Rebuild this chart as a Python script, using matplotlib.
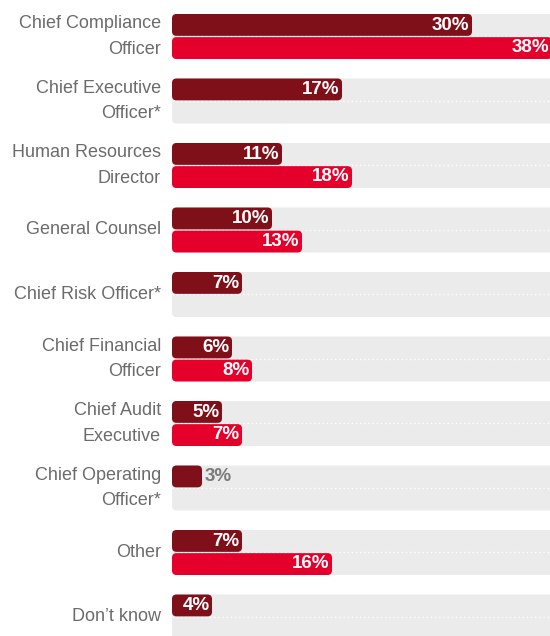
import matplotlib.pyplot as plt
from matplotlib.patches import FancyBboxPatch

categories = [
    "Chief Compliance\nOfficer",
    "Chief Executive\nOfficer*",
    "Human Resources\nDirector",
    "General Counsel",
    "Chief Risk Officer*",
    "Chief Financial\nOfficer",
    "Chief Audit\nExecutive",
    "Chief Operating\nOfficer*",
    "Other",
    "Don\u2019t know",
]
# upper (dark red) and lower (bright red) bar in each group; None = no bar
upper_values = [30, 17, 11, 10, 7, 6, 5, 3, 7, 4]
lower_values = [38, None, 18, 13, None, 8, 7, None, 16, None]

DARK = "#7f0f18"
RED = "#e4002b"
BG = "#ebebeb"
LABEL = "#6b6b6b"

plt.rcParams['font.family'] = ['Liberation Sans', 'DejaVu Sans']

fig = plt.figure(figsize=(5.5, 6.36), dpi=100)
# bars start at x=172px, figure is 550px wide
ax = fig.add_axes([172 / 550, 0, 1 - 172 / 550, 1])

xmax = 37.8
row = 64.5           # px between group centres
bar_h = 22.5 / row   # one bar height in data units
ax.set_xlim(0, xmax)
ax.set_ylim((636 - 36.5) / row, -36.5 / row)
ax.axis('off')

# aspect so that rounding looks circular: x 10px/unit, y 64.5px/unit
aspect = 10 / row
rnd = 0.45


def rounded(x, y, w, h, color, z):
    p = FancyBboxPatch((x, y), w, h, boxstyle=f"round,pad=0,rounding_size={rnd}",
                       mutation_aspect=aspect, facecolor=color, edgecolor='none',
                       zorder=z, clip_on=True)
    ax.add_patch(p)


for i, (cat, up, lo) in enumerate(zip(categories, upper_values, lower_values)):
    # grey background track
    rounded(0, i - bar_h, xmax + 2, 2 * bar_h, BG, 1)
    ax.plot([0, xmax], [i, i], color='white', lw=1, linestyle=(0, (1, 2)), zorder=2)

    # upper bar
    rounded(0, i - bar_h, up, bar_h - 0.01, DARK, 3)
    if up >= 4:
        ax.text(up - 0.25, i - bar_h / 2, f"{up}%", ha='right', va='center',
                color='white', fontsize=13.5, fontweight='bold', zorder=4)
    else:
        ax.text(up + 0.3, i - bar_h / 2, f"{up}%", ha='left', va='center',
                color='#7a7a7a', fontsize=13.5, fontweight='bold', zorder=4)

    # lower bar
    if lo is not None:
        rounded(0, i + 0.01, lo, bar_h - 0.01, RED, 3)
        ax.text(lo - 0.25, i + bar_h / 2, f"{lo}%", ha='right', va='center',
                color='white', fontsize=13.5, fontweight='bold', zorder=4)

    # category label
    ax.text(-1.1, i, cat, ha='right', va='center', multialignment='right',
            color=LABEL, fontsize=13, linespacing=1.62, clip_on=False)

fig.savefig("out.png", dpi=100)
